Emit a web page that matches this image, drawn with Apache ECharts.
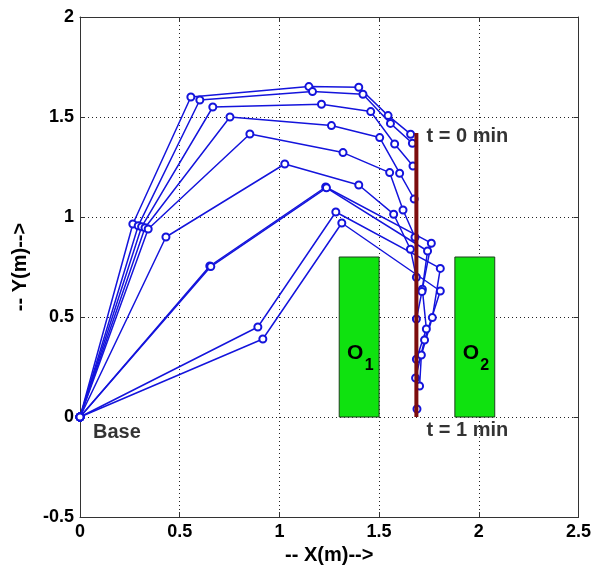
<!DOCTYPE html>
<html>
<head>
<meta charset="utf-8">
<script src="https://cdn.jsdelivr.net/npm/echarts@6/dist/echarts.min.js"></script>
<style>
  html, body { margin: 0; padding: 0; background: #ffffff; }
  #chart { width: 594px; height: 572px; }
</style>
</head>
<body>
<div id="chart"></div>
<script>
// Arm configurations sampled over one minute: base, joints 1..5, end effector (x, y in metres)
const pose01 = [[0, 0], [0.265, 0.965], [0.556, 1.600], [1.148, 1.652], [1.398, 1.649], [1.545, 1.507], [1.658, 1.414]];
const pose02 = [[0, 0], [0.292, 0.956], [0.601, 1.585], [1.166, 1.627], [1.419, 1.614], [1.557, 1.468], [1.667, 1.369]];
const pose03 = [[0, 0], [0.309, 0.951], [0.666, 1.550], [1.211, 1.564], [1.458, 1.527], [1.578, 1.365], [1.670, 1.255]];
const pose04 = [[0, 0], [0.326, 0.946], [0.752, 1.500], [1.261, 1.457], [1.503, 1.397], [1.603, 1.219], [1.676, 1.090]];
const pose05 = [[0, 0], [0.342, 0.940], [0.852, 1.415], [1.319, 1.322], [1.553, 1.222], [1.620, 1.035], [1.680, 0.899]];
const pose06 = [[0, 0], [0.431, 0.900], [1.027, 1.265], [1.398, 1.160], [1.573, 1.014], [1.657, 0.839], [1.687, 0.699]];
const pose07 = [[0, 0], [0.651, 0.755], [1.232, 1.150], [1.762, 0.869], [1.717, 0.639], [1.737, 0.440], [1.687, 0.289]];
const pose08 = [[0, 0], [0.656, 0.752], [1.236, 1.146], [1.743, 0.830], [1.715, 0.627], [1.687, 0.490]];
const pose09 = [[0, 0], [0.892, 0.450], [1.283, 1.025], [1.807, 0.743], [1.767, 0.497], [1.712, 0.310], [1.703, 0.155]];
const pose10 = [[0, 0], [0.917, 0.390], [1.313, 0.970], [1.807, 0.630], [1.728, 0.385], [1.683, 0.195], [1.690, 0.040]];
const poses = [pose01, pose02, pose03, pose04, pose05, pose06, pose07, pose08, pose09, pose10];

// Desired end-effector path (vertical segment)
const pathX = [1.687, 1.687];
const pathY = [0, 1.42];

// Rectangular obstacles O1, O2
const obstacleSubs = ['1', '2'];
const obstacleX0 = [1.30, 1.88];
const obstacleX1 = [1.50, 2.08];
const obstacleY0 = [0, 0];
const obstacleY1 = [0.80, 0.80];

// Annotations
const noteTexts = ['t = 0 min', 't = 1 min', 'Base'];
const noteX = [1.738, 1.738, 0.065];
const noteY = [1.405, -0.065, -0.075];

// Axis ranges
const xRange = [0, 2.5];
const yRange = [-0.5, 2];
const tickStep = 0.5;

const FONT = 'Arial, "Liberation Sans", Helvetica, sans-serif';
const ARM_BLUE = '#1414dc';
const AXIS_COLOR = '#333333';

const chart = echarts.init(document.getElementById('chart'), null, { renderer: 'canvas' });

const frameAxis = (extra) => Object.assign({
  type: 'value',
  interval: tickStep,
  axisLine: { show: true, onZero: false, lineStyle: { color: AXIS_COLOR, width: 1 } },
  axisTick: { show: true, inside: true, length: 5, lineStyle: { color: AXIS_COLOR } },
  splitLine: { show: false },
  axisLabel: { show: false }
}, extra);

const labelStyle = { fontFamily: FONT, fontSize: 18, fontWeight: 'bold', color: '#000' };
const gridDots = { show: true, lineStyle: { color: '#222', width: 1, type: [1, 3] } };

const armSeries = poses.map((p, i) => ({
  name: 'pose' + (i + 1),
  type: 'line',
  data: p,
  symbol: 'emptyCircle',
  symbolSize: 7,
  showAllSymbol: true,
  lineStyle: { color: ARM_BLUE, width: 1.5 },
  itemStyle: { color: ARM_BLUE, borderColor: ARM_BLUE, borderWidth: 1.2 },
  z: 3,
  silent: true
}));

const option = {
  animation: false,
  backgroundColor: '#ffffff',
  grid: { left: 80, top: 17, width: 499, height: 500, containLabel: false },
  xAxis: [
    frameAxis({
      min: xRange[0], max: xRange[1], position: 'bottom',
      axisLabel: Object.assign({ show: true, margin: 6 }, labelStyle),
      splitLine: gridDots,
      name: '-- X(m)-->', nameLocation: 'middle', nameGap: 27,
      nameTextStyle: { fontFamily: FONT, fontSize: 20, fontWeight: 'bold', color: '#000' }
    }),
    frameAxis({ min: xRange[0], max: xRange[1], position: 'top' })
  ],
  yAxis: [
    frameAxis({
      min: yRange[0], max: yRange[1], position: 'left',
      axisLabel: Object.assign({ show: true, margin: 6 }, labelStyle),
      splitLine: gridDots,
      name: '-- Y(m)-->', nameLocation: 'middle', nameGap: 50, nameRotate: 90,
      nameTextStyle: { fontFamily: FONT, fontSize: 20, fontWeight: 'bold', color: '#000' }
    }),
    frameAxis({ min: yRange[0], max: yRange[1], position: 'right' })
  ],
  series: [
    {
      name: 'obstacles',
      type: 'custom',
      z: 1,
      silent: true,
      data: obstacleX0.map((x0, i) => [x0, obstacleY0[i], obstacleX1[i], obstacleY1[i]]),
      encode: { x: [0, 2], y: [1, 3] },
      renderItem: (params, api) => {
        const tl = api.coord([api.value(0), api.value(3)]);
        const br = api.coord([api.value(2), api.value(1)]);
        const cx = (tl[0] + br[0]) / 2;
        const cy = (tl[1] + br[1]) / 2;
        return {
          type: 'group',
          children: [
            {
              type: 'rect',
              shape: { x: tl[0], y: tl[1], width: br[0] - tl[0], height: br[1] - tl[1] },
              style: { fill: '#0fe20f', stroke: '#1f3f1f', lineWidth: 1 }
            },
            {
              type: 'text', x: cx - 4, y: cy + 16,
              style: { text: 'O', fontFamily: FONT, fontSize: 21, fontWeight: 'bold', fill: '#000', align: 'center', verticalAlign: 'middle' }
            },
            {
              type: 'text', x: cx + 10, y: cy + 29,
              style: { text: obstacleSubs[params.dataIndex], fontFamily: FONT, fontSize: 16, fontWeight: 'bold', fill: '#000', align: 'center', verticalAlign: 'middle' }
            }
          ]
        };
      }
    },
    ...armSeries,
    {
      name: 'path',
      type: 'line',
      data: pathX.map((x, i) => [x, pathY[i]]),
      symbol: 'none',
      lineStyle: { color: '#7d0d0d', width: 4 },
      z: 4,
      silent: true
    },
    {
      name: 'notes',
      type: 'scatter',
      data: noteX.map((x, i) => ({ value: [x, noteY[i]], name: noteTexts[i] })),
      symbolSize: 0,
      z: 5,
      silent: true,
      label: {
        show: true,
        position: 'inside',
        align: 'left',
        verticalAlign: 'middle',
        formatter: (p) => p.name,
        fontFamily: FONT, fontSize: 20, fontWeight: 'bold', color: '#000'
      }
    }
  ]
};

chart.setOption(option);
</script>
</body>
</html>
